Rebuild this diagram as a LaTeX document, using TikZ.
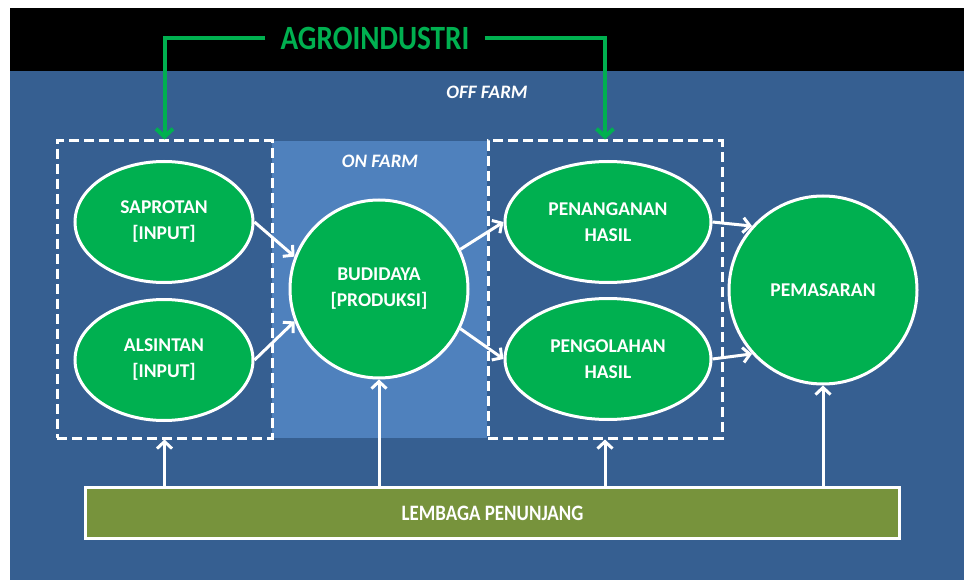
\documentclass[tikz,border=0pt]{standalone}
\usepackage{fontspec}
\setmainfont{Carlito}
\newfontfamily\narrowfont[FakeStretch=0.86]{Carlito}
\usetikzlibrary{shapes.geometric,arrows.meta}

\definecolor{agrogreen}{RGB}{0,176,80}
\definecolor{offfarm}{RGB}{54,95,145}
\definecolor{onfarm}{RGB}{79,129,189}
\definecolor{lembaga}{RGB}{119,147,60}

\begin{document}
\begin{tikzpicture}[x=1pt,y=-1pt,
	tahap/.style={ellipse,draw=white,line width=3pt,fill=agrogreen,text=white,
		font=\bfseries\fontsize{19.5}{26}\selectfont,align=center,
		minimum width=178pt,minimum height=121pt,inner sep=0pt},
	bulat/.style={tahap,circle},
	kotak/.style={rectangle,draw=white,line width=3pt,dash pattern=on 10pt off 5pt,
		minimum height=297pt},
	label/.style={text=white,font=\bfseries\itshape\fontsize{19}{22}\selectfont},
	panah/.style={draw=white,line width=3pt,-{Straight Barb[length=7pt,width=15pt]}},
	hijau/.style={draw=agrogreen,line width=4pt,-{Straight Barb[length=8pt,width=17pt]}}]

	% latar
	\useasboundingbox (0,0) rectangle (964,580);
	\fill[white] (0,0) rectangle (964,580);
	\fill[black] (10,8) rectangle (964,71);
	\fill[offfarm] (10,71) rectangle (964,580);
	\fill[onfarm] (272,141) rectangle (487,438);

	\draw
	node[kotak, minimum width=215pt] at (164.5,289.5) (input) {}
	node[kotak, minimum width=234pt] at (605,289.5) (hasil) {}

	node[tahap] at (164,222) (saprotan) {SAPROTAN\\{[INPUT]}}
	node[tahap] at (164,360) (alsintan) {ALSINTAN\\{[INPUT]}}
	node[bulat, minimum size=178pt] at (379,289) (budidaya) {BUDIDAYA\\{[PRODUKSI]}}
	node[tahap, minimum width=206pt] at (608,222) (penanganan) {PENANGANAN\\HASIL}
	node[tahap, minimum width=206pt] at (608,359) (pengolahan) {PENGOLAHAN\\HASIL}
	node[bulat, minimum size=188pt] at (823,290) (pemasaran) {PEMASARAN}

	node[label] at (487,92) (offfarm) {OFF FARM}
	node[label] at (380,161) (onfarm) {ON FARM}

	node[rectangle,draw=white,line width=3pt,fill=lembaga,text=white,
		font=\narrowfont\bfseries\fontsize{22}{24}\selectfont,
		minimum width=814pt,minimum height=51pt] at (492.5,513) (penunjang) {LEMBAGA PENUNJANG}

	node[text=agrogreen,font=\narrowfont\bfseries\fontsize{34}{34}\selectfont,inner xsep=15pt]
		at (375,38) (agro) {AGROINDUSTRI}
	;

	\draw[hijau] (agro.west) -| (input.north);
	\draw[hijau] (agro.east) -| (hasil.north);

	\draw[panah] (saprotan.east) -- (budidaya.159);
	\draw[panah] (alsintan.east) -- (budidaya.201);
	\draw[panah] (budidaya.26) -- (penanganan.west);
	\draw[panah] (budidaya.-26) -- (pengolahan.west);
	\draw[panah] (penanganan.east) -- (pemasaran.138);
	\draw[panah] (pengolahan.east) -- (pemasaran.222);

	\draw[panah] (penunjang.north -| input) -- (input.south);
	\draw[panah] (penunjang.north -| budidaya) -- (budidaya.south);
	\draw[panah] (penunjang.north -| hasil) -- (hasil.south);
	\draw[panah] (penunjang.north -| pemasaran) -- (pemasaran.south);
\end{tikzpicture}
\end{document}
